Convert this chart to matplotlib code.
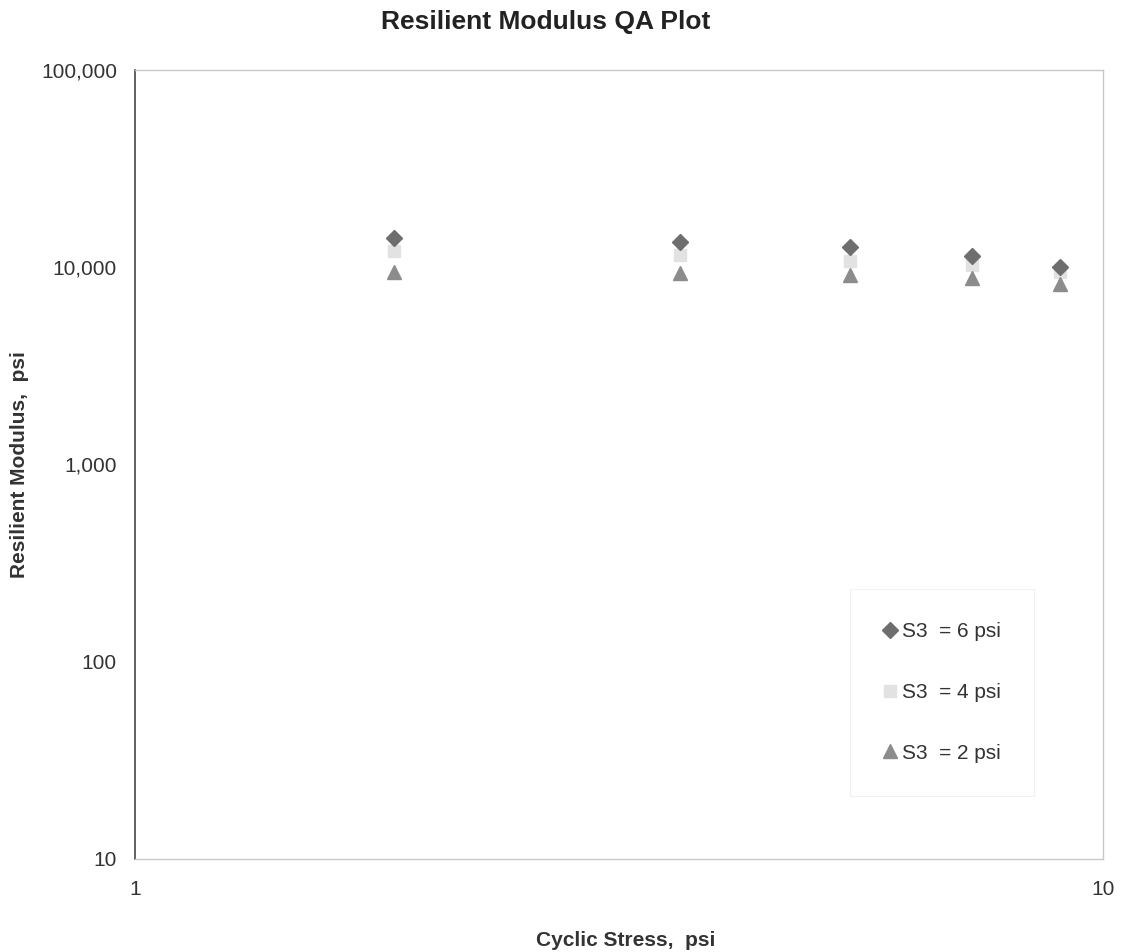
import matplotlib
matplotlib.use("Agg")
import matplotlib.pyplot as plt
from matplotlib.ticker import FixedLocator, FixedFormatter, NullLocator

plt.rcParams['font.family'] = ['Liberation Sans', 'DejaVu Sans']

cyclic_stress = [1.85, 3.66, 5.48, 7.32, 9.03]
mr_s3_6 = [14000, 13460, 12700, 11370, 10000]
mr_s3_4 = [12050, 11500, 10700, 10230, 9440]
mr_s3_2 = [9440, 9400, 9100, 8800, 8200]
series_labels = ["S3  = 6 psi", "S3  = 4 psi", "S3  = 2 psi"]
y_ticks = [10, 100, 1000, 10000, 100000]
y_ticklabels = ["10", "100", "1,000", "10,000", "100,000"]
x_ticks = [1, 10]
x_ticklabels = ["1", "10"]

fig = plt.figure(figsize=(11.21, 9.52), dpi=100)
ax = fig.add_axes([135/1121, 1-859/952, (1103-135)/1121, (859-70)/952])

ax.plot(cyclic_stress, mr_s3_6, linestyle='none', marker='D', markersize=8,
        color='#6e6e6e', label=series_labels[0], zorder=3)
ax.plot(cyclic_stress, mr_s3_4, linestyle='none', marker='s', markersize=8,
        color='#e2e2e2', label=series_labels[1], zorder=2)
ax.plot(cyclic_stress, mr_s3_2, linestyle='none', marker='^', markersize=10,
        color='#8c8c8c', label=series_labels[2], zorder=3)

ax.set_xscale('log')
ax.set_yscale('log')
ax.set_xlim(1, 10)
ax.set_ylim(10, 100000)

ax.yaxis.set_major_locator(FixedLocator(y_ticks))
ax.yaxis.set_major_formatter(FixedFormatter(y_ticklabels))
ax.yaxis.set_minor_locator(NullLocator())
ax.xaxis.set_major_locator(FixedLocator(x_ticks))
ax.xaxis.set_major_formatter(FixedFormatter(x_ticklabels))
ax.xaxis.set_minor_locator(NullLocator())
ax.tick_params(axis='both', length=0, labelsize=15, labelcolor='#333333')
ax.tick_params(axis='y', pad=13)
ax.tick_params(axis='x', pad=15)

ax.spines['left'].set_color('#555555')
ax.spines['left'].set_linewidth(1.3)
for s in ['top', 'right', 'bottom']:
    ax.spines[s].set_color('#c8c8c8')
    ax.spines[s].set_linewidth(1.0)

fig.text(0.487, 0.977, "Resilient Modulus QA Plot", ha='center', va='center',
         fontsize=19, fontweight='bold', color='#222222')
fig.text(0.558, 0.012, "Cyclic Stress,  psi", ha='center', va='center',
         fontsize=15, fontweight='bold', color='#333333')
fig.text(0.017, 0.512, "Resilient Modulus,  psi", ha='center', va='center',
         rotation=90, fontsize=15, fontweight='bold', color='#333333')

leg = ax.legend(loc='center', bbox_to_anchor=(0.834, 0.211), frameon=True,
                fontsize=15, labelspacing=2.0, handlelength=0.6, handletextpad=0.3,
                borderpad=1.6, labelcolor='#333333')
leg.get_frame().set_edgecolor('#eeeeee')
leg.get_frame().set_linewidth(0.8)
leg.get_frame().set_boxstyle('square', pad=0)

fig.savefig("out.png", dpi=100)
